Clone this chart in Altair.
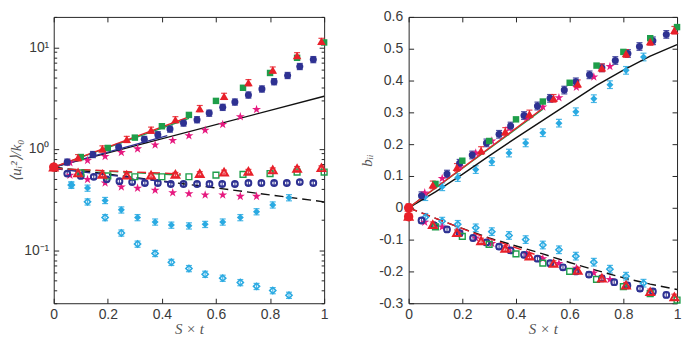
import altair as alt
import pandas as pd

# ---------------- data: left panel (log scale) ----------------
L_red_up_x = [0, 0.09, 0.18, 0.27, 0.36, 0.45, 0.54, 0.63, 0.72, 0.81, 0.90, 0.99]
L_red_up_y = [0.66, 0.82, 1.0, 1.24, 1.53, 1.94, 2.5, 3.3, 4.5, 6.0, 8.3, 11.5]
L_grn_up_x = [0.1, 0.2, 0.3, 0.4, 0.5, 0.6, 0.7, 0.8, 0.9, 1.0]
L_grn_up_y = [0.83, 1.02, 1.29, 1.67, 2.16, 2.97, 4.0, 5.6, 7.9, 11.2]
L_nav_up_x = [0.05, 0.145, 0.24, 0.335, 0.385, 0.43, 0.48, 0.53, 0.575, 0.625, 0.67, 0.72, 0.77, 0.815, 0.865, 0.91, 0.96]
L_nav_up_y = [0.74, 0.88, 1.04, 1.24, 1.38, 1.57, 1.8, 1.94, 2.25, 2.57, 2.9, 3.4, 3.9, 4.6, 5.3, 6.5, 7.6]
L_mag_x = [0.06, 0.125, 0.19, 0.25, 0.31, 0.375, 0.44, 0.5, 0.56, 0.625, 0.69, 0.75]
L_mag_up_y = [0.73, 0.77, 0.84, 0.92, 1.0, 1.09, 1.21, 1.35, 1.53, 1.74, 2.07, 2.45]

L_red_lo_y = [0.66, 0.58, 0.56, 0.55, 0.55, 0.56, 0.57, 0.59, 0.60, 0.62, 0.64, 0.65]
L_grn_lo_y = [0.58, 0.54, 0.53, 0.53, 0.53, 0.55, 0.56, 0.57, 0.59, 0.59]
L_nav_lo_x = [0.05, 0.1, 0.148, 0.196, 0.243, 0.29, 0.337, 0.385, 0.433, 0.48, 0.53, 0.576, 0.623, 0.67, 0.72, 0.768, 0.815, 0.862, 0.91, 0.96]
L_nav_lo_y = [0.57, 0.54, 0.53, 0.50, 0.48, 0.47, 0.46, 0.46, 0.45, 0.45, 0.45, 0.45, 0.45, 0.45, 0.46, 0.46, 0.46, 0.46, 0.47, 0.46]
L_mag_lo_y = [0.55, 0.50, 0.46, 0.42, 0.41, 0.39, 0.37, 0.36, 0.35, 0.35, 0.34, 0.34]
L_cya_x = [0.065, 0.125, 0.19, 0.25, 0.31, 0.375, 0.435, 0.5, 0.56, 0.625, 0.69, 0.75, 0.81, 0.87]
L_cya_a_y = [0.44, 0.41, 0.31, 0.25, 0.21, 0.19, 0.177, 0.174, 0.18, 0.19, 0.21, 0.24, 0.28, 0.33]
L_cya_b_y = [0.44, 0.30, 0.21, 0.148, 0.115, 0.093, 0.076, 0.066, 0.058, 0.053, 0.048, 0.044, 0.040, 0.036]

L_blk_x, L_blk_y = [0, 1], [0.66, 3.3]
L_redln_x, L_redln_y = [0, 0.5], [0.66, 2.07]
L_grnln_x, L_grnln_y = [0, 0.5], [0.66, 2.0]
L_navln_x, L_navln_y = [0, 0.42], [0.66, 1.35]
L_blkd_x, L_blkd_y = [0, 1], [0.66, 0.30]
L_redd_x, L_redd_y = [0, 0.47], [0.64, 0.565]
L_grnd_x, L_grnd_y = [0, 0.47], [0.64, 0.55]
L_navd_x, L_navd_y = [0, 0.45], [0.64, 0.46]
L_dot_x, L_dot_y = [0], [0.66]

# ---------------- data: right panel ----------------
R_red_x = [0, 0.09, 0.18, 0.27, 0.36, 0.45, 0.54, 0.63, 0.72, 0.81, 0.90, 0.99]
R_red_up_y = [0.0, 0.072, 0.127, 0.18, 0.24, 0.295, 0.344, 0.39, 0.44, 0.485, 0.523, 0.558]
R_red_lo_y = [-0.027, -0.053, -0.078, -0.104, -0.128, -0.152, -0.175, -0.197, -0.221, -0.243, -0.264, -0.28]
R_grn_x = [0.1, 0.2, 0.3, 0.4, 0.5, 0.6, 0.7, 0.8, 0.9, 1.0]
R_grn_up_y = [0.075, 0.148, 0.21, 0.278, 0.334, 0.393, 0.447, 0.49, 0.533, 0.568]
R_grn_lo_y = [-0.06, -0.09, -0.115, -0.145, -0.174, -0.2, -0.225, -0.248, -0.27, -0.29]
R_nav_up_x = [0.048, 0.143, 0.19, 0.237, 0.29, 0.337, 0.38, 0.43, 0.48, 0.527, 0.58, 0.623, 0.674, 0.72, 0.77, 0.817, 0.86, 0.91, 0.96]
R_nav_up_y = [0.038, 0.106, 0.14, 0.166, 0.204, 0.231, 0.257, 0.29, 0.32, 0.344, 0.37, 0.396, 0.418, 0.44, 0.463, 0.485, 0.507, 0.525, 0.545]
R_nav_lo_x = [0.048, 0.095, 0.143, 0.19, 0.24, 0.29, 0.337, 0.38, 0.43, 0.48, 0.527, 0.575, 0.623, 0.672, 0.72, 0.766, 0.815, 0.862, 0.91, 0.96]
R_nav_lo_y = [-0.04, -0.055, -0.068, -0.08, -0.095, -0.109, -0.122, -0.134, -0.148, -0.16, -0.174, -0.187, -0.2, -0.21, -0.222, -0.234, -0.244, -0.254, -0.263, -0.274]
R_mag_x = [0.06, 0.125, 0.19, 0.25, 0.31, 0.375, 0.44, 0.5, 0.56, 0.625, 0.69, 0.75]
R_mag_up_y = [0.047, 0.092, 0.13, 0.172, 0.21, 0.25, 0.285, 0.317, 0.346, 0.379, 0.411, 0.444]
R_mag_lo_y = [-0.045, -0.06, -0.077, -0.095, -0.112, -0.128, -0.145, -0.16, -0.175, -0.19, -0.205, -0.225]
R_cya_x = [0.062, 0.125, 0.183, 0.25, 0.31, 0.374, 0.436, 0.5, 0.56, 0.623, 0.69, 0.75, 0.81, 0.875]
R_cya_up_y = [0.035, 0.066, 0.095, 0.12, 0.145, 0.172, 0.204, 0.236, 0.266, 0.302, 0.343, 0.387, 0.432, 0.474]
R_cya_lo_y = [-0.03, -0.042, -0.052, -0.063, -0.075, -0.087, -0.1, -0.117, -0.132, -0.152, -0.171, -0.193, -0.215, -0.237]

R_blk_x = [0, 0.1, 0.2, 0.3, 0.4, 0.5, 0.6, 0.7, 0.8, 0.9, 1.0]
R_blk_y = [0, 0.05, 0.105, 0.163, 0.22, 0.275, 0.33, 0.385, 0.433, 0.477, 0.513]
R_blkd_y = [0, -0.033, -0.065, -0.095, -0.12, -0.145, -0.172, -0.197, -0.22, -0.24, -0.257]
R_redln_x, R_redln_y = [0, 0.5], [0, 0.313]
R_grnln_x, R_grnln_y = [0, 0.5], [0, 0.31]
R_redd_x, R_redd_y = [0, 0.25, 0.5], [0, -0.082, -0.155]
R_dot_x, R_dot_y = [0, 0], [0.0, -0.028]

# error half-widths (relative for log panel, absolute for linear panel)
L_ERR, L_ERR_LO = 0.07, 0.045
R_ERR = 0.012

# ticks / labels
X_TICKS = [0, 0.2, 0.4, 0.6, 0.8, 1]
L_YTICKS = [0.1, 1, 10]
L_YLABELS = ["10⁻¹", "10⁰", "10¹"]
L_YMINOR = [0.03, 0.04, 0.05, 0.06, 0.07, 0.08, 0.09, 0.2, 0.3, 0.4, 0.5, 0.6, 0.7, 0.8, 0.9,
            2, 3, 4, 5, 6, 7, 8, 9, 20]
R_YTICKS = [-0.3, -0.2, -0.1, 0, 0.1, 0.2, 0.3, 0.4, 0.5, 0.6]

# ---------------- styles ----------------
RED, GRN, NAV, MAG, CYA = "#E8202A", "#1E9E4A", "#2E3192", "#E6197F", "#2AAAE2"
STAR = ("M0,-1L0.2245,-0.309L0.951,-0.309L0.363,0.118L0.588,0.809L0,0.382"
        "L-0.588,0.809L-0.363,0.118L-0.951,-0.309L-0.2245,-0.309Z")
WL, WR, H = 272, 270, 288
LABEL_FONT = "Liberation Sans"
TITLE_FONT = "Liberation Serif"
TXT = "#3a3a3a"
TICKC = "#262626"

xsc = alt.Scale(domain=[0, 1], nice=False, zero=False)
ysc_L = alt.Scale(type="log", domain=[0.03, 20], nice=False)
ysc_R = alt.Scale(domain=[-0.3, 0.6], nice=False, zero=False)


def enc(ysc, ycol="y"):
    return dict(x=alt.X("x:Q", scale=xsc, axis=None),
                y=alt.Y(f"{ycol}:Q", scale=ysc, axis=None))


def pts(xs, ys, ysc, color, shape, filled, size, sw=1.3):
    df = pd.DataFrame({"x": xs, "y": ys})
    if filled:
        m = alt.Chart(df).mark_point(shape=shape, filled=True, size=size, color=color, opacity=1)
    else:
        m = alt.Chart(df).mark_point(shape=shape, filled=False, size=size, color=color,
                                     opacity=1, strokeWidth=sw)
    return m.encode(**enc(ysc))


def ebar(xs, ys, ysc, err, rel, color):
    df = pd.DataFrame({"x": xs, "y": ys})
    if rel:
        df["lo"] = df["y"] * (1 - err)
        df["hi"] = df["y"] * (1 + err)
    else:
        df["lo"] = df["y"] - err
        df["hi"] = df["y"] + err
    base = alt.Chart(df)
    rule = base.mark_rule(color=color, strokeWidth=1.2, opacity=0.85).encode(
        x=alt.X("x:Q", scale=xsc, axis=None),
        y=alt.Y("lo:Q", scale=ysc, axis=None), y2="hi:Q")
    t1 = base.mark_tick(color=color, orient="horizontal", size=6, thickness=1.2, opacity=0.85).encode(**enc(ysc, "lo"))
    t2 = base.mark_tick(color=color, orient="horizontal", size=6, thickness=1.2, opacity=0.85).encode(**enc(ysc, "hi"))
    return [rule, t1, t2]


def line(xs, ys, ysc, color, dash=None, sw=1.4):
    df = pd.DataFrame({"x": xs, "y": ys})
    if dash:
        m = alt.Chart(df).mark_line(color=color, strokeWidth=sw, strokeDash=dash)
    else:
        m = alt.Chart(df).mark_line(color=color, strokeWidth=sw)
    return m.encode(**enc(ysc))


def axis_layers(ysc, W, ymain, yticks, yminor=None):
    base_y = 1 if ysc is ysc_L else 0
    d = pd.DataFrame({"x": [0.5], "y": [base_y]})
    common = dict(grid=False, domain=False)
    main = alt.Chart(d).mark_point(opacity=0).encode(
        x=alt.X("x:Q", scale=xsc, axis=alt.Axis(
            orient="bottom", values=X_TICKS, ticks=False, tickSize=0, labelPadding=4,
            labelExpr="replace(format(datum.value, '~g'), '−', '-')", labelFlush=False,
            labelFont=LABEL_FONT, labelFontSize=14, labelColor=TXT,
            title="S × t", titleFont=TITLE_FONT, titleFontStyle="italic", titleFontWeight="normal",
            titleFontSize=15, titleColor="#555555", titlePadding=0, **common)),
        y=alt.Y("y:Q", scale=ysc, axis=ymain))
    tk = dict(labels=False, ticks=True, tickColor=TICKC, tickWidth=1, title=None, **common)
    inner1 = alt.Chart(d).mark_point(opacity=0).encode(
        x=alt.X("x:Q", scale=xsc, axis=alt.Axis(orient="top", offset=-H, values=X_TICKS, tickSize=5, **tk)),
        y=alt.Y("y:Q", scale=ysc, axis=alt.Axis(orient="right", offset=-W, values=yticks, tickSize=5, **tk)))
    inner2 = alt.Chart(d).mark_point(opacity=0).encode(
        x=alt.X("x:Q", scale=xsc, axis=alt.Axis(orient="bottom", offset=-H, values=X_TICKS, tickSize=5, **tk)),
        y=alt.Y("y:Q", scale=ysc, axis=alt.Axis(orient="left", offset=-W, values=yticks, tickSize=5, **tk)))
    layers = [main, inner1, inner2]
    if yminor:
        for o in ("right", "left"):
            layers.append(alt.Chart(d).mark_point(opacity=0).encode(
                x=alt.X("x:Q", scale=xsc, axis=None),
                y=alt.Y("y:Q", scale=ysc, axis=alt.Axis(orient=o, offset=-W, values=yminor, tickSize=3, **tk))))
    return layers


def ytitle_axis(values, labelExpr, title, lpad, tpad):
    return alt.Axis(orient="left", values=values, ticks=False, tickSize=0, labelPadding=lpad,
                    labelExpr=labelExpr, labelFont=LABEL_FONT, labelFontSize=14, labelColor=TXT,
                    title=title, titleFont=TITLE_FONT, titleFontStyle="italic", titleFontWeight="normal",
                    titleFontSize=15, titleColor="#555555", titlePadding=tpad, grid=False, domain=False)


# ---------------- left panel ----------------
lab_map = " : ".join([f"datum.value == {v} ? '{s}'" for v, s in zip(L_YTICKS, L_YLABELS)]) + " : ''"
L_layers = []
L_layers += axis_layers(ysc_L, WL, ytitle_axis(L_YTICKS, lab_map, "⟨uᵢ²⟩/k₀", 5, 0), L_YTICKS, L_YMINOR)
L_layers += ebar(L_cya_x, L_cya_a_y, ysc_L, L_ERR, True, CYA)
L_layers += ebar(L_cya_x, L_cya_b_y, ysc_L, L_ERR, True, CYA)
L_layers += ebar(L_nav_up_x, L_nav_up_y, ysc_L, L_ERR, True, NAV)
L_layers += ebar(L_nav_lo_x, L_nav_lo_y, ysc_L, L_ERR_LO, True, NAV)
L_layers += ebar(L_red_up_x, L_red_up_y, ysc_L, L_ERR, True, RED)
L_layers += ebar(L_red_up_x, L_red_lo_y, ysc_L, L_ERR_LO, True, RED)
L_layers += [
    line(L_blk_x, L_blk_y, ysc_L, "#111111"),
    line(L_blkd_x, L_blkd_y, ysc_L, "#111111", [9, 5]),
    line(L_grnln_x, L_grnln_y, ysc_L, GRN),
    line(L_navln_x, L_navln_y, ysc_L, NAV),
    line(L_redln_x, L_redln_y, ysc_L, RED),
    line(L_grnd_x, L_grnd_y, ysc_L, GRN, [9, 5]),
    line(L_navd_x, L_navd_y, ysc_L, NAV, [9, 5]),
    line(L_redd_x, L_redd_y, ysc_L, RED, [9, 5]),
    pts(L_cya_x, L_cya_a_y, ysc_L, CYA, "diamond", True, 50),
    pts(L_cya_x, L_cya_b_y, ysc_L, CYA, "diamond", False, 38, 1.6),
    pts(L_mag_x, L_mag_up_y, ysc_L, MAG, STAR, True, 90),
    pts(L_mag_x, L_mag_lo_y, ysc_L, MAG, STAR, True, 90),
    pts(L_nav_up_x, L_nav_up_y, ysc_L, NAV, "circle", True, 50),
    pts(L_nav_lo_x, L_nav_lo_y, ysc_L, NAV, "circle", False, 34, 2),
    pts(L_grn_up_x, L_grn_up_y, ysc_L, GRN, "square", True, 42),
    pts(L_grn_up_x, L_grn_lo_y, ysc_L, GRN, "square", False, 34, 1.4),
    pts(L_red_up_x, L_red_up_y, ysc_L, RED, "triangle-up", True, 75),
    pts(L_red_up_x, L_red_lo_y, ysc_L, RED, "triangle-up", False, 60, 2),
    pts(L_dot_x, L_dot_y, ysc_L, RED, "circle", True, 90),
]
left = alt.layer(*L_layers).resolve_scale(x="shared", y="shared").resolve_axis(
    x="independent", y="independent").properties(width=WL, height=H)

# ---------------- right panel ----------------
R_layers = []
R_layers += axis_layers(ysc_R, WR, ytitle_axis(R_YTICKS, "replace(format(datum.value, '~g'), '−', '-')", "bᵢᵢ", 6, 4),
                        R_YTICKS)
R_layers += ebar(R_cya_x, R_cya_up_y, ysc_R, R_ERR, False, CYA)
R_layers += ebar(R_cya_x, R_cya_lo_y, ysc_R, R_ERR, False, CYA)
R_layers += ebar(R_nav_up_x, R_nav_up_y, ysc_R, R_ERR, False, NAV)
R_layers += ebar(R_nav_lo_x, R_nav_lo_y, ysc_R, R_ERR * 0.7, False, NAV)
R_layers += ebar(R_red_x, R_red_up_y, ysc_R, R_ERR, False, RED)
R_layers += ebar(R_red_x, R_red_lo_y, ysc_R, R_ERR * 0.7, False, RED)
R_layers += [
    line(R_blk_x, R_blk_y, ysc_R, "#111111"),
    line(R_blk_x, R_blkd_y, ysc_R, "#111111", [9, 5]),
    line(R_grnln_x, R_grnln_y, ysc_R, GRN),
    line(R_redln_x, R_redln_y, ysc_R, RED),
    line(R_redd_x, R_redd_y, ysc_R, RED, [9, 5]),
    pts(R_cya_x, R_cya_up_y, ysc_R, CYA, "diamond", True, 50),
    pts(R_cya_x, R_cya_lo_y, ysc_R, CYA, "diamond", False, 38, 1.6),
    pts(R_mag_x, R_mag_up_y, ysc_R, MAG, STAR, True, 90),
    pts(R_mag_x, R_mag_lo_y, ysc_R, MAG, STAR, True, 90),
    pts(R_nav_up_x, R_nav_up_y, ysc_R, NAV, "circle", True, 50),
    pts(R_nav_lo_x, R_nav_lo_y, ysc_R, NAV, "circle", False, 34, 2),
    pts(R_grn_x, R_grn_up_y, ysc_R, GRN, "square", True, 42),
    pts(R_grn_x, R_grn_lo_y, ysc_R, GRN, "square", False, 34, 1.4),
    pts(R_red_x, R_red_up_y, ysc_R, RED, "triangle-up", True, 75),
    pts(R_red_x, R_red_lo_y, ysc_R, RED, "triangle-up", False, 60, 2),
    pts(R_dot_x, R_dot_y, ysc_R, RED, "circle", True, 90),
]
right = alt.layer(*R_layers).resolve_scale(x="shared", y="shared").resolve_axis(
    x="independent", y="independent").properties(width=WR, height=H)

chart = alt.hconcat(left, right, spacing=28).properties(
    padding={"left": 0, "top": 0, "right": 0, "bottom": -2},
    background="white",
).configure_view(stroke=TICKC, strokeWidth=1)

chart.save("out.html", embed_options={"renderer": "svg", "actions": False})
